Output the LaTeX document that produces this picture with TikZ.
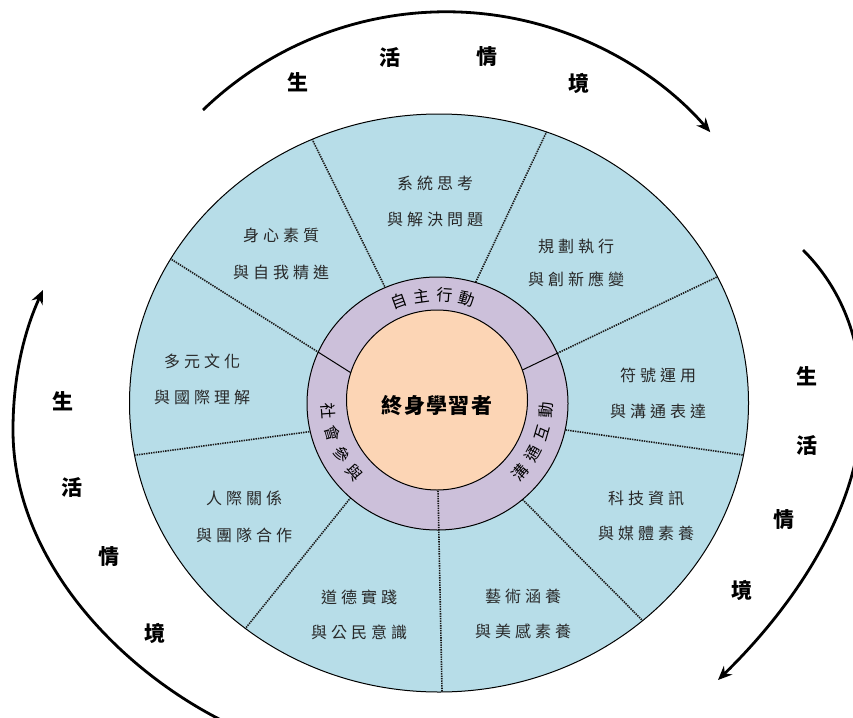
\documentclass[tikz,border=0pt]{standalone}
\usepackage{fontspec}
\setmainfont{Noto Sans CJK TC}
\newfontfamily\segfont[LetterSpace=25]{Noto Sans CJK TC}
\newfontfamily\corefont[LetterSpace=7]{Noto Sans CJK TC}
\usetikzlibrary{arrows.meta,calc}
\definecolor{bluefill}{RGB}{183,221,232}
\definecolor{ringfill}{RGB}{204,192,218}
\definecolor{corefill}{RGB}{252,213,181}
\definecolor{segtext}{RGB}{40,40,40}
\begin{document}
\begin{tikzpicture}[x=1pt,y=-1pt,
 outline/.style={draw=black, line width=1pt},
 dotline/.style={line width=1.6pt, dash pattern=on 1.4pt off 1pt, black!90},
 solidline/.style={line width=1pt, black},
 seglabel/.style={font=\segfont\fontsize{16}{18}\selectfont, text=segtext, inner sep=0pt},
 ringlabel/.style={font=\fontsize{16}{18}\selectfont, inner sep=0pt},
 ctxlabel/.style={font=\bfseries\fontsize{21}{23}\selectfont, inner sep=0pt},
 ctxarrow/.style={line width=2.8pt, -{Stealth[length=14pt,width=12pt]}}]
\useasboundingbox (0,0) rectangle (853,717);
% outer disk
\coordinate (C) at (439,403);
\fill[bluefill] (C) ellipse[x radius=309.5, y radius=289];
\begin{scope}
\clip (C) ellipse[x radius=309.5, y radius=289];
\foreach \xa/\ya/\xb/\yb in {381/279/312/139, 480/273/546/133, 560/352/717/277,
   566/430/743/455, 524/501/642/620, 438/490/442/690, 348/501/249/624,
   307/432/136/455, 318/352/174/261}
  \draw[dotline] ($(\xa,\ya)!-0.5!(\xb,\yb)$) -- ($(\xa,\ya)!1.6!(\xb,\yb)$);
\end{scope}
\draw[outline] (C) ellipse[x radius=309.5, y radius=289];
% ring
\coordinate (R) at (437.5,403.5);
\fill[ringfill] (R) ellipse[x radius=130.5, y radius=126.5];
\begin{scope}
\clip (R) ellipse[x radius=130.5, y radius=126.5];
\draw[solidline] ($(560,352)!-0.8!(717,277)$) -- (717,277);
\draw[solidline] ($(318,352)!-0.8!(174,261)$) -- (174,261);
\draw[dotline] ($(438,490)!-0.5!(442,690)$) -- (442,690);
\end{scope}
\draw[outline] (R) ellipse[x radius=130.5, y radius=126.5];
% core
\filldraw[fill=corefill, outline] (437,400) ellipse[x radius=90.5, y radius=90];
\node[font=\corefont\bfseries\fontsize{21}{23}\selectfont, inner sep=0pt] (core) at (437,406) {終身學習者};
% ring labels
\foreach \c [count=\i] in {自,主,行,動} {
  \pgfmathsetmacro\t{110-12*(\i-1)}
  \node[ringlabel, rotate=\t-90] (rt\i) at ({437+110*cos(\t)},{403-108*sin(\t)}) {\c};
}
\foreach \c [count=\i] in {社,會,參,與} {
  \pgfmathsetmacro\t{184.2+12.2*(\i-1)}
  \node[ringlabel, rotate=\t+90] (rl\i) at ({437+109*cos(\t)},{403-107*sin(\t)}) {\c};
}
\foreach \c [count=\i] in {溝,通,互,動} {
  \pgfmathsetmacro\t{-40.6+12.2*(\i-1)}
  \node[ringlabel, rotate=\t+90] (rr\i) at ({437+109*cos(\t)},{403-107*sin(\t)}) {\c};
}
% segment labels
\node[seglabel] (s1a) at (435,183) {系統思考};
\node[seglabel] (s1b) at (435,219) {與解決問題};
\node[seglabel] (s2a) at (576,246) {規劃執行};
\node[seglabel] (s2b) at (576,279) {與創新應變};
\node[seglabel] (s3a) at (658,375) {符號運用};
\node[seglabel] (s3b) at (658,411) {與溝通表達};
\node[seglabel] (s4a) at (646,498) {科技資訊};
\node[seglabel] (s4b) at (646,533) {與媒體素養};
\node[seglabel] (s5a) at (523,597) {藝術涵養};
\node[seglabel] (s5b) at (523,631) {與美感素養};
\node[seglabel] (s6a) at (359,597) {道德實踐};
\node[seglabel] (s6b) at (359,632) {與公民意識};
\node[seglabel] (s7a) at (244,498) {人際關係};
\node[seglabel] (s7b) at (244,535) {與團隊合作};
\node[seglabel] (s8a) at (202,361) {多元文化};
\node[seglabel] (s8b) at (202,397) {與國際理解};
\node[seglabel] (s9a) at (281,235) {身心素質};
\node[seglabel] (s9b) at (281,272) {與自我精進};
% context labels
\node[ctxlabel] (t1) at (298,82) {生};
\node[ctxlabel] (t2) at (390,57) {活};
\node[ctxlabel] (t3) at (487,57) {情};
\node[ctxlabel] (t4) at (579,83) {境};
\node[ctxlabel] (r1) at (807,376) {生};
\node[ctxlabel] (r2) at (807,445) {活};
\node[ctxlabel] (r3) at (784,520) {情};
\node[ctxlabel] (r4) at (742,590) {境};
\node[ctxlabel] (l1) at (63,401) {生};
\node[ctxlabel] (l2) at (72,487) {活};
\node[ctxlabel] (l3) at (109,557) {情};
\node[ctxlabel] (l4) at (155,633) {境};
% context arrows
\coordinate (ta) at (203,110);
\draw[ctxarrow] (ta) arc[start angle=-134, end angle=-41, radius=350];
\coordinate (ra) at (803,250);
\coordinate (rb) at (862,405);
\coordinate (rc) at (718,680);
\draw[ctxarrow] (ra) .. controls (835,282) and (862,330) .. (rb) .. controls (862,510) and (790,610) .. (rc);
\coordinate (lb) at (225,722);
\coordinate (lm) at (13,430);
\coordinate (lt) at (43,290);
\draw[ctxarrow] (lb) .. controls (120,670) and (13,560) .. (lm) .. controls (13,360) and (32,314) .. (lt);
\end{tikzpicture}
\end{document}
